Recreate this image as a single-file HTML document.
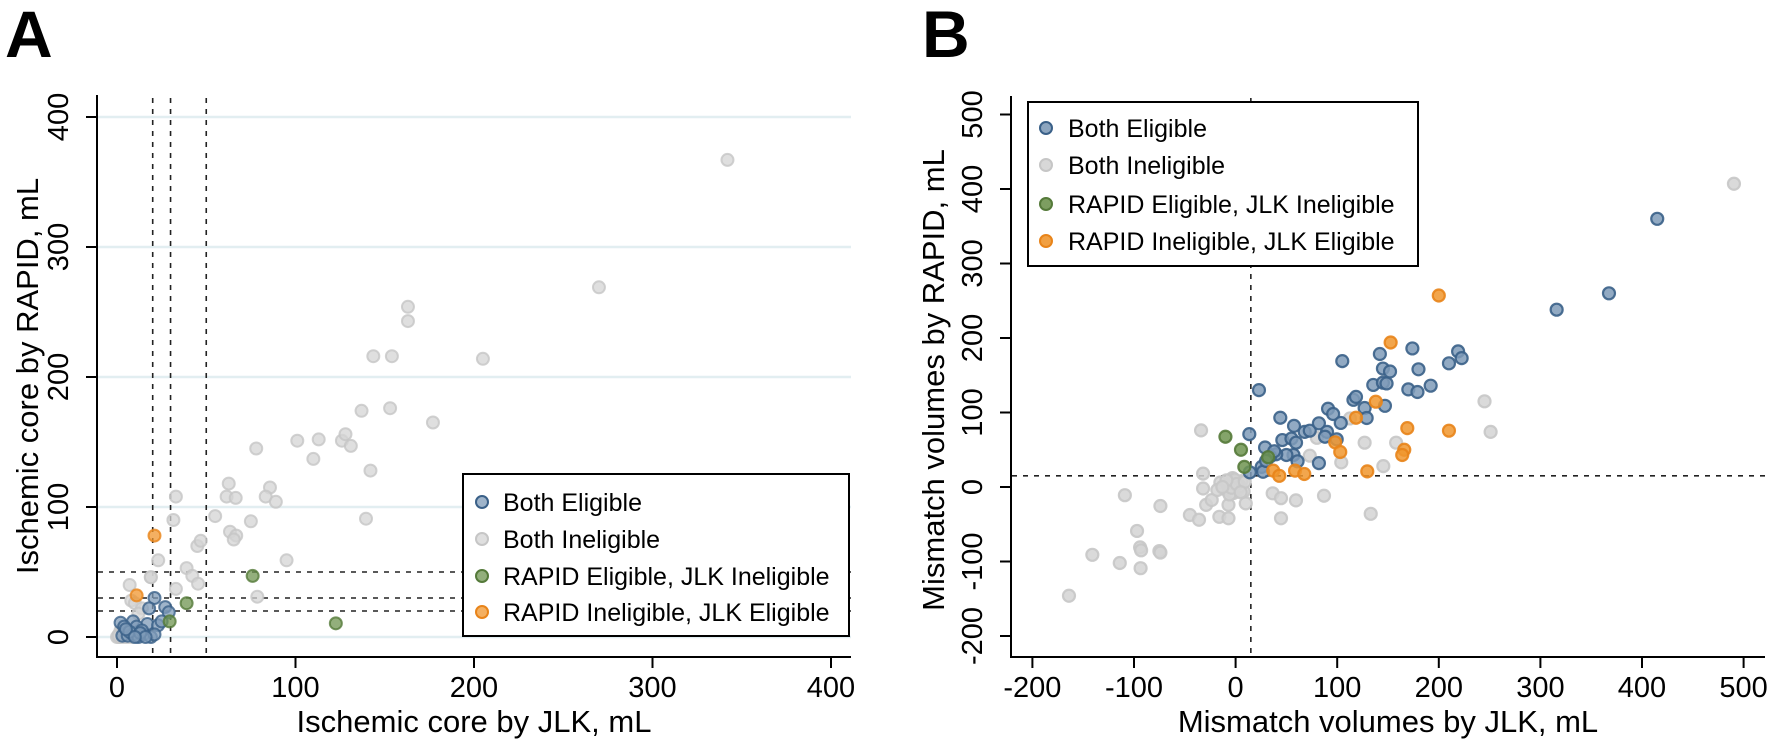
<!DOCTYPE html>
<html><head><meta charset="utf-8">
<style>
html,body{margin:0;padding:0;background:#fff;}
svg{display:block;font-family:"Liberation Sans",Arial,sans-serif;}
</style></head>
<body>
<svg id="fig" width="1772" height="744" viewBox="0 0 1772 744">
  <text x="5" y="57" font-size="66" font-weight="bold">A</text>
  <text x="922" y="57" font-size="66" font-weight="bold">B</text>
  <g id="pa"></g>
  <g id="pb"></g>
</svg>
<script>
// ---------- Panel A data ----------
const aTicks = [0, 100, 200, 300, 400];
const aBothEligX = [21,18,27,29,2,9,17,23,3,6,9,12,15,19,4,11,14,21,7,13,16,25,5,10];
const aBothEligY = [30,22,23,19,11,12,10,9,1,1,2,0,2,0,8,8,5,2,4,3,0,12,6,0];
const aBothInelX = [342,270,163,163,143.6,154,205,177,153,137,101,113,126,128,131,110,142,78,62.6,61.4,66.5,85.7,83.3,89,33,31.6,55,75,139.5,63.3,66.8,65.4,45,46.9,95,23.1,39,42.2,45.4,18.9,7.1,78.6,33,8,10,14,12,19,1,2,3,4,5,6,7,8,3,1,10,5,2,0,1,4,6];
const aBothInelY = [367,269,254,243,216,216,214,165,176,174,151,152,151,156,147,137,128,145,118,108,107,115,108,104,108,90,93,89,91,81,78,75,70,74,59,59,53,47,41,46,40,31,37,28,26,22,18,46,0,0,1,0,2,0,1,0,3,2,1,4,5,0,1,2,3];
const aRapidOnlyX = [76,122.6,29.5,39];
const aRapidOnlyY = [47,10.5,12,26];
const aJlkOnlyX = [21,11];
const aJlkOnlyY = [78,32];
const aCutoffs = [20,30,50];

// ---------- Panel B data ----------
const bXTicks = [-200,-100,0,100,200,300,400,500];
const bYTicks = [-200,-100,0,100,200,300,400,500];
const bBothEligX = [316,367.5,415,23,105,13.5,44,57.5,46,29,55,59.5,57,61,50,40,34,25.7,27,14,82,68,73,82,90,88,99.5,91,96,103.5,116,118.5,127,129,147,135.5,145,148.6,145,152,142,174,180,170,179,192,210,219,222.5,30,38];
const bBothEligY = [238,260,360,130,169,71,93,82,63,53,65,59.5,43,34.5,43,44,41,27,20.5,19.7,32,74,75.6,85.5,74,67.5,64,105,98,86,117,121,106,92.6,109,137,140,139,159,155,178.5,186,158,131,127.5,136,166,182,173,35,48];
const bBothInelX = [490.5,245,251,127,158,145.4,104,80,73,112.6,36.5,44.7,59.4,87,133,44.7,-34,-32,-32,-109,-74,-45,-36,-16,-7,-29,-23.5,-7,10,-97,-94,-75,-141,-114,-93,-74,-93.5,-164,-10,-5,0,3,6,-3,-8,-12,-15,-2,2,8,-6,-1,4,-4,1,-18,9,-9,5,-13];
const bBothInelY = [407,115,74,59.5,59.5,28,33,66,42,92,-8.5,-15,-18,-11.7,-36,-42,76,18,-2,-11,-25.5,-37.6,-44,-40,-42,-24,-17.5,-24,-22,-59,-81,-86,-91,-102,-85,-88,-109,-146,2,5,0,-3,8,12,-5,-2,6,-8,3,-6,-10,10,1,-1,4,-4,7,9,-7,0];
const bRapidOnlyX = [-10,5.3,8.6,32];
const bRapidOnlyY = [67.5,50,27,40];
const bJlkOnlyX = [200,152.6,138,118.5,169,210,98,103,166,164,129.6,58.5,67.6,37,43];
const bJlkOnlyY = [257,194,114.5,93,79,75.6,60,47,50,43,21,22,17.5,22,15];
const bCutX = [15];
const bCutY = [15];

// ---------- helpers ----------
const NS = 'http://www.w3.org/2000/svg';
function mk(parent, tag, attrs) {
  const e = document.createElementNS(NS, tag);
  for (const k in attrs) e.setAttribute(k, attrs[k]);
  parent.appendChild(e);
  return e;
}
const styles = {
  elig:  {fill:'#7f9bb8', stroke:'#3a6088'},
  inel:  {fill:'#d4d4d4', stroke:'#c6c6c6'},
  rapid: {fill:'#6f9450', stroke:'#557a3a'},
  jlk:   {fill:'#f0962e', stroke:'#e8841a'}
};
const R = 6;

// ---------- Panel A ----------
const pa = document.getElementById('pa');
const axA = v => 117 + v * 1.785;
const ayA = v => 637 - v * 1.3;
aTicks.forEach(t => {
  const g = mk(pa, 'line', {x1:98, x2:851, y1:ayA(t), y2:ayA(t), stroke:'#e2eef1', 'stroke-width':2.5});
  
  
});
aCutoffs.forEach(c => {
  const v = mk(pa, 'line', {x1:axA(c), x2:axA(c), y1:98, y2:657, stroke:'#222', 'stroke-width':1.6, 'stroke-dasharray':'5,6'});
  
  
  const h = mk(pa, 'line', {x1:98, x2:851, y1:ayA(c), y2:ayA(c), stroke:'#222', 'stroke-width':1.6, 'stroke-dasharray':'5,6'});
  
  
});
function pointsA(xs, ys, st, name) {
  xs.forEach((x, i) => {
    const c = mk(pa, 'circle', {cx:axA(x), cy:ayA(ys[i]), r:R, fill:st.fill, stroke:st.stroke, 'stroke-width':2, 'fill-opacity':0.75, 'stroke-opacity':0.8});
    
    
  });
}
pointsA(aBothInelX, aBothInelY, styles.inel, 'point-both-ineligible');
pointsA(aBothEligX, aBothEligY, styles.elig, 'point-both-eligible');
pointsA(aRapidOnlyX, aRapidOnlyY, styles.rapid, 'point-rapid-eligible-jlk-ineligible');
pointsA(aJlkOnlyX, aJlkOnlyY, styles.jlk, 'point-rapid-ineligible-jlk-eligible');
let e;
e = mk(pa, 'line', {x1:97, x2:97, y1:95, y2:658, stroke:'#000', 'stroke-width':2});
 
e = mk(pa, 'line', {x1:96, x2:851, y1:657, y2:657, stroke:'#000', 'stroke-width':2});
 
aTicks.forEach(t => {
  let k = mk(pa, 'line', {x1:86, x2:97, y1:ayA(t), y2:ayA(t), stroke:'#000', 'stroke-width':2});
   
  let l = mk(pa, 'text', {x:0, y:0, 'font-size':29, 'text-anchor':'middle', transform:`translate(68,${ayA(t)}) rotate(-90)`});
  l.textContent = t;
   
  let kx = mk(pa, 'line', {x1:axA(t), x2:axA(t), y1:657, y2:668, stroke:'#000', 'stroke-width':2});
   
  let lx = mk(pa, 'text', {x:axA(t), y:697, 'font-size':29, 'text-anchor':'middle'});
  lx.textContent = t;
   
});
e = mk(pa, 'text', {x:474, y:732, 'font-size':31, 'text-anchor':'middle'});
e.textContent = 'Ischemic core by JLK, mL';
 
e = mk(pa, 'text', {x:0, y:0, 'font-size':31, 'text-anchor':'middle', transform:'translate(38,376) rotate(-90)'});
e.textContent = 'Ischemic core by RAPID, mL';
 

const legendLabels = ['Both Eligible','Both Ineligible','RAPID Eligible, JLK Ineligible','RAPID Ineligible, JLK Eligible'];
const legendStyles = [styles.elig, styles.inel, styles.rapid, styles.jlk];
function legend(parent, x, y, w, h, rowsY, mx, tx, op, name) {
  const g = mk(parent, 'g', {});
   
  mk(g, 'rect', {x:x, y:y, width:w, height:h, fill:'#fff', stroke:'#000', 'stroke-width':2});
  legendLabels.forEach((lab, i) => {
    const c = mk(g, 'circle', {cx:mx, cy:rowsY[i], r:R, fill:legendStyles[i].fill, stroke:legendStyles[i].stroke, 'stroke-width':2, 'fill-opacity':op});
     
    const t = mk(g, 'text', {x:tx, y:rowsY[i] + 9, 'font-size':25});
    t.textContent = lab;
     
  });
}
legend(pa, 463, 474, 386, 162, [502, 539, 576, 612], 482, 503, 0.75, 'legend-a');

// ---------- Panel B ----------
const pb = document.getElementById('pb');
const axB = v => 1235.6 + v * 1.016;
const ayB = v => 487 - v * 0.745;
bCutX.forEach(c => {
  const v = mk(pb, 'line', {x1:axB(c), x2:axB(c), y1:98, y2:657, stroke:'#222', 'stroke-width':1.6, 'stroke-dasharray':'5,6'});
   
});
bCutY.forEach(c => {
  const h = mk(pb, 'line', {x1:1012, x2:1765, y1:ayB(c), y2:ayB(c), stroke:'#222', 'stroke-width':1.6, 'stroke-dasharray':'5,6'});
   
});
function pointsB(xs, ys, st, name) {
  xs.forEach((x, i) => {
    const c = mk(pb, 'circle', {cx:axB(x), cy:ayB(ys[i]), r:R, fill:st.fill, stroke:st.stroke, 'stroke-width':2.2, 'fill-opacity':0.85, 'stroke-opacity':0.9});
    
    
  });
}
pointsB(bBothInelX, bBothInelY, styles.inel, 'point-both-ineligible');
pointsB(bBothEligX, bBothEligY, styles.elig, 'point-both-eligible');
pointsB(bRapidOnlyX, bRapidOnlyY, styles.rapid, 'point-rapid-eligible-jlk-ineligible');
pointsB(bJlkOnlyX, bJlkOnlyY, styles.jlk, 'point-rapid-ineligible-jlk-eligible');
e = mk(pb, 'line', {x1:1011, x2:1011, y1:96, y2:658, stroke:'#000', 'stroke-width':2});
 
e = mk(pb, 'line', {x1:1010, x2:1765, y1:657, y2:657, stroke:'#000', 'stroke-width':2});
 
bYTicks.forEach(t => {
  let k = mk(pb, 'line', {x1:1000, x2:1011, y1:ayB(t), y2:ayB(t), stroke:'#000', 'stroke-width':2});
   
  let l = mk(pb, 'text', {x:0, y:0, 'font-size':29, 'text-anchor':'middle', transform:`translate(982,${ayB(t)}) rotate(-90)`});
  l.textContent = t;
   
});
bXTicks.forEach(t => {
  let kx = mk(pb, 'line', {x1:axB(t), x2:axB(t), y1:657, y2:668, stroke:'#000', 'stroke-width':2});
   
  let lx = mk(pb, 'text', {x:axB(t), y:697, 'font-size':29, 'text-anchor':'middle'});
  lx.textContent = t;
   
});
e = mk(pb, 'text', {x:1388, y:732, 'font-size':31, 'text-anchor':'middle'});
e.textContent = 'Mismatch volumes by JLK, mL';
 
e = mk(pb, 'text', {x:0, y:0, 'font-size':31, 'text-anchor':'middle', transform:'translate(944,380) rotate(-90)'});
e.textContent = 'Mismatch volumes by RAPID, mL';
 
legend(pb, 1028, 102, 390, 164, [128, 165, 204, 241], 1046, 1068, 0.9, 'legend-b');
</script>
</body></html>
